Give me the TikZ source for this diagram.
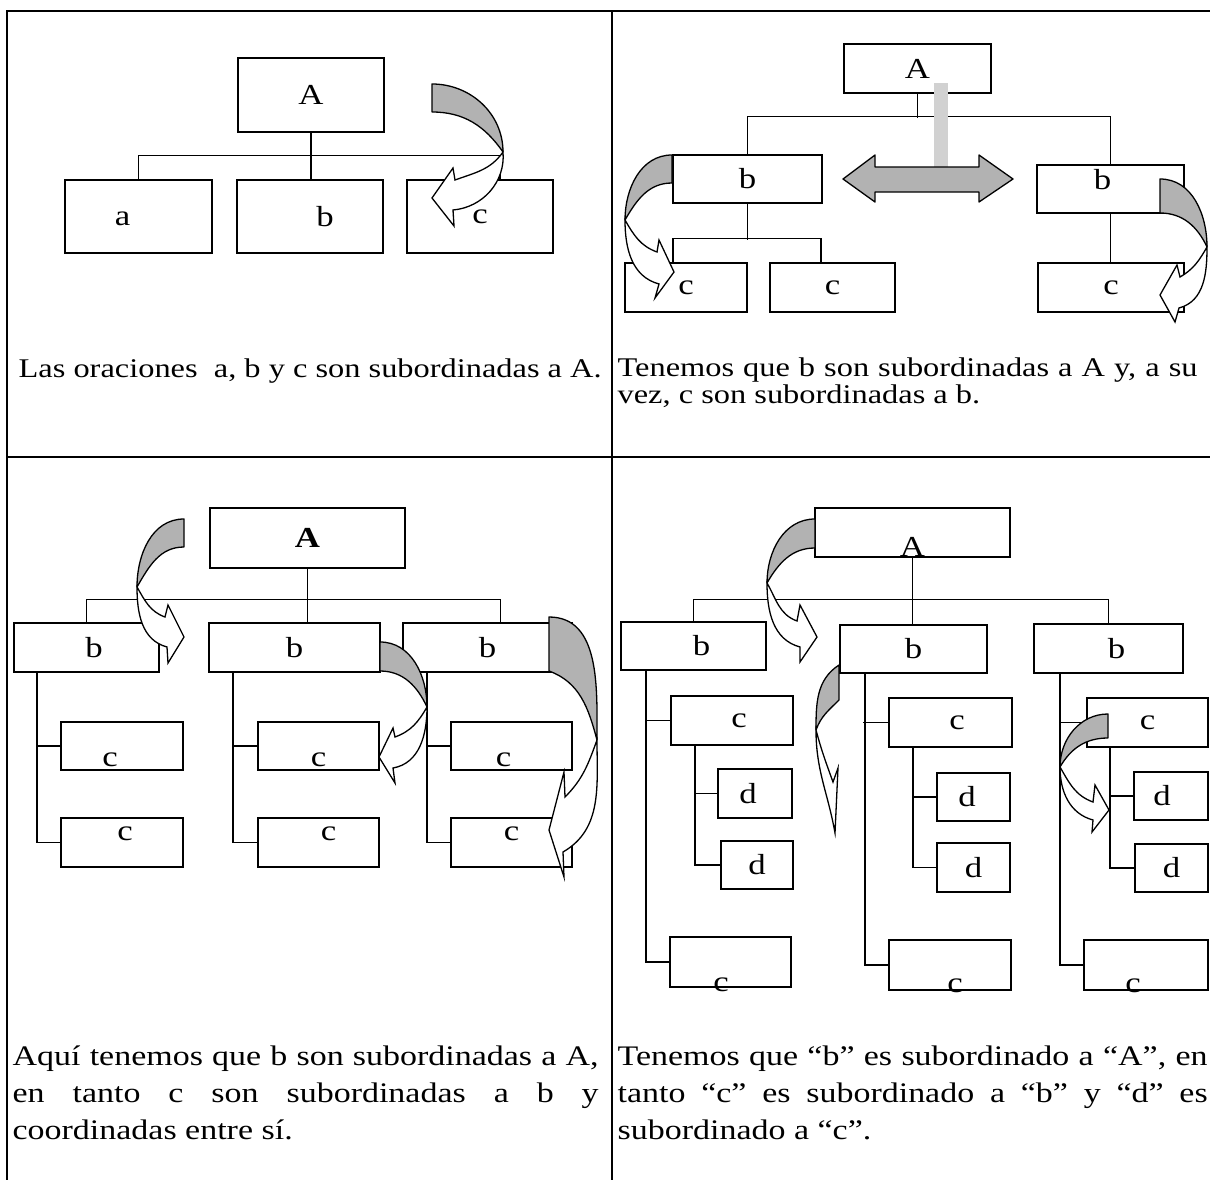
\documentclass[tikz,border=0pt]{standalone}
\usepackage{fontspec}
\setmainfont{Liberation Serif}[FakeStretch=1.2]
\begin{document}
\begin{tikzpicture}[x=1pt, y=1pt, line width=1.3pt, font=\fontsize{27}{27}\selectfont,
  bx/.style={draw, inner sep=0pt, font=\fontsize{29}{29}\selectfont},
  every label/.style={font=\fontsize{29}{29}\selectfont},
  back/.style={draw, fill=black!30, line join=round},
  front/.style={draw, fill=white, line join=miter},
  bar/.style={fill=black!18},
  txt/.style={anchor=base west, inner sep=0pt, align=justify},
  low/.style={font=\fontsize{28.3}{37}\selectfont}]
\useasboundingbox (0,0) rectangle (1210,-1180);
\draw (7,-1180) |- (1210,-11);
\draw (612,-11) -- (612,-1180);
\draw (7,-457) -- (1210,-457);

\node[bx, minimum width=146, minimum height=74] (A1) at (311,-95) {A};
\node[bx, minimum width=147, minimum height=73, label={[xshift=-16,yshift=-2]center:a}] (a1) at (138.5,-216.5) {};
\node[bx, minimum width=146, minimum height=73, label={[xshift=15]center:b}] (b1) at (310,-216.5) {};
\node[bx, minimum width=146, minimum height=73] (c1) at (480,-216.5) {c};
\draw (A1.south) -- (A1.south |- b1.north);
\draw (a1.north) -- ++(0,24) -| ([xshift=20]c1.north);
\node[anchor=base west, inner sep=0pt] (t1) at (18,-377) {Las oraciones\ \ a, b y c son subordinadas a A.};

\node[bx, minimum width=147, minimum height=49] (A2) at (917.5,-68.5) {A};
\node[bx, minimum width=149, minimum height=48] (b2L) at (747.5,-179) {b};
\node[bx, minimum width=147, minimum height=48, label={[xshift=-8,yshift=9]center:b}] (b2R) at (1110.5,-189) {};
\node[bx, minimum width=122, minimum height=49] (c2a) at (686,-287.5) {c};
\node[bx, minimum width=125, minimum height=49] (c2b) at (832.5,-287.5) {c};
\node[bx, minimum width=146, minimum height=49] (c2R) at (1111,-287.5) {c};
\draw (A2.south) -- ++(0,-24);
\draw (b2L.north) -- ++(0,38) -| (b2R.north);
\draw (b2L.south) -- ++(0,-36);
\draw ([xshift=-13]c2a.north) -- ++(0,24) -| ([xshift=-11.5]c2b.north);
\draw (b2R.south) -- (b2R.south |- c2R.north);
\node[txt, text width=580] (t2) at (617,-376) {\noindent Tenemos que b son subordinadas a A y, a su\linebreak vez, c son subordinadas a b.};

\node[bx, minimum width=195, minimum height=60] (A3) at (307.5,-538) {\bfseries A};
\node[bx, minimum width=145, minimum height=49, label={[xshift=7.5]center:b}] (b3a) at (86.5,-647.5) {};
\node[bx, minimum width=171, minimum height=49] (b3b) at (294.5,-647.5) {b};
\node[bx, minimum width=169, minimum height=49] (b3c) at (487.5,-647.5) {b};
\draw (b3a.north) -- ++(0,23) -| ([xshift=13]b3c.north);
\draw (A3.south) -- (A3.south |- b3b.north);
\node[bx, minimum width=122, minimum height=48, label={[xshift=-12,yshift=-14]center:c}] (c3a1) at (122,-746) {};
\node[bx, minimum width=122, minimum height=49, label={[xshift=3,yshift=9]center:c}] (c3a2) at (122,-842.5) {};
\node[bx, minimum width=121, minimum height=48, label={[yshift=-14]center:c}] (c3b1) at (318.5,-746) {};
\node[bx, minimum width=121, minimum height=49, label={[xshift=10,yshift=9]center:c}] (c3b2) at (318.5,-842.5) {};
\node[bx, minimum width=121, minimum height=48, label={[xshift=-8,yshift=-14]center:c}] (c3c1) at (511.5,-746) {};
\node[bx, minimum width=121, minimum height=49, label={[yshift=9]center:c}] (c3c2) at (511.5,-842.5) {};
\draw ([xshift=-49.5]b3a.south) |- (c3a2.west);
\draw (c3a1.west) -- ++(-24,0);
\draw ([xshift=-61.5]b3b.south) |- (c3b2.west);
\draw (c3b1.west) -- ++(-25,0);
\draw ([xshift=-60.5]b3c.south) |- (c3c2.west);
\draw (c3c1.west) -- ++(-24,0);
\node[txt, low, text width=586] (t3) at (12,-1065) {\noindent Aquí tenemos que b son subordinadas a A,\linebreak en tanto c son subordinadas a b y\linebreak coordinadas entre sí.};

\node[bx, minimum width=195, minimum height=49, label={[yshift=-14]center:A}] (A4) at (912.5,-532.5) {};
\node[bx, minimum width=145, minimum height=48, label={[xshift=8]center:b}] (b4a) at (693.5,-646) {};
\node[bx, minimum width=147, minimum height=48] (b4b) at (913.5,-649) {b};
\node[bx, minimum width=149, minimum height=49, label={[xshift=8]center:b}] (b4c) at (1108.5,-648.5) {};
\draw (b4a.north) -- ++(0,22) -| (b4c.north);
\draw (A4.south) -- (A4.south |- b4b.north);
\node[bx, minimum width=122, minimum height=49, label={[xshift=7]center:c}] (c4a) at (732,-720.5) {};
\node[bx, minimum width=74, minimum height=49, label={[xshift=-7]center:d}] (d4a1) at (755,-793.5) {};
\node[bx, minimum width=72, minimum height=48] (d4a2) at (757,-865) {d};
\node[bx, minimum width=121, minimum height=50, label={[xshift=-9.5,yshift=-23]center:c}] (c4a3) at (730.5,-962) {};
\draw ([xshift=-47.5]b4a.south) |- (c4a3.west);
\draw (c4a.west) -- ++(-25,0);
\draw ([xshift=-37]c4a.south) |- (d4a2.west);
\draw (d4a1.west) -- ++(-23,0);
\node[bx, minimum width=123, minimum height=49, label={[xshift=6.5]center:c}] (c4b) at (950.5,-722.5) {};
\node[bx, minimum width=73, minimum height=48, label={[xshift=-6.5]center:d}] (d4b1) at (973.5,-797) {};
\node[bx, minimum width=73, minimum height=49] (d4b2) at (973.5,-867.5) {d};
\node[bx, minimum width=122, minimum height=50, label={[xshift=5,yshift=-21]center:c}] (c4b3) at (950,-965) {};
\draw ([xshift=-48.5]b4b.south) |- (c4b3.west);
\draw (c4b.west) -- ++(-25,0);
\draw ([xshift=-37.5]c4b.south) |- (d4b2.west);
\draw (d4b1.west) -- ++(-24,0);
\node[bx, minimum width=121, minimum height=49] (c4c) at (1147.5,-722.5) {c};
\node[bx, minimum width=74, minimum height=48, label={[xshift=-9]center:d}] (d4c1) at (1171,-796) {};
\node[bx, minimum width=73, minimum height=48] (d4c2) at (1171.5,-868) {d};
\node[bx, minimum width=124, minimum height=50, label={[xshift=-13,yshift=-21]center:c}] (c4c3) at (1146,-965) {};
\draw ([xshift=-48.5]b4c.south) |- (c4c3.west);
\draw (c4c.west) -- ++(-27,0);
\draw ([xshift=-37.5]c4c.south) |- (d4c2.west);
\draw (d4c1.west) -- ++(-24,0);
\node[txt, low, text width=590] (t4) at (617,-1065) {\noindent Tenemos que “b” es subordinado a “A”, en\linebreak tanto “c” es subordinado a “b” y “d” es\linebreak subordinado a “c”.};

\fill[bar] (934,-83) rectangle (948,-167);
\draw[back] (843,-179) -- (875,-155) -- (875,-167) -- (979,-167) -- (979,-155) -- (1013,-179) -- (979,-202) -- (979,-192) -- (875,-192) -- (875,-202) -- cycle;

\draw[back] (432,-84) to[out=0,in=90] (503,-152) to[out=125,in=0] (432,-112) -- cycle;
\draw[front] (453,-210) to[out=5,in=275] (503,-152) to[out=235,in=20] (455,-180) -- (453,-168) -- (432,-198) -- (454,-226) -- cycle;

\draw[back] (672,-155) to[out=180,in=90] (625,-220) to[out=60,in=180] (672,-183) -- cycle;
\draw[front] (659,-284) to[out=165,in=270] (625,-220) to[out=300,in=160] (657,-252) -- (659,-240) -- (674,-272) -- (655,-298) -- cycle;

\draw[back] (1160,-179) to[out=0,in=90] (1207,-247) to[out=115,in=0] (1160,-213) -- cycle;
\draw[front] (1179,-308) to[out=15,in=270] (1207,-247) to[out=240,in=30] (1180,-277) -- (1177,-265) -- (1160,-295) -- (1175,-322) -- cycle;

\draw[back] (184,-519) to[out=180,in=90] (137,-587) to[out=60,in=180] (184,-547) -- cycle;
\draw[front] (167,-647) to[out=165,in=270] (137,-587) to[out=300,in=160] (165,-617) -- (168,-605) -- (184,-637) -- (168,-663) -- cycle;

\draw[back] (380,-642) to[out=0,in=90] (427,-707) to[out=115,in=0] (380,-671) -- cycle;
\draw[front] (393,-768) to[out=10,in=270] (427,-707) to[out=240,in=20] (395,-737) -- (393,-728) -- (379,-757) -- (395,-783) -- cycle;

\draw[back] (549,-617) to[out=0,in=90] (597,-740) to[out=105,in=-20] (549,-671) -- cycle;
\draw[front] (563,-852) to[out=30,in=270] (597,-740) to[out=250,in=45] (565,-797) -- (564,-772) -- (549,-830) -- (564,-877) -- cycle;

\draw[back] (815,-519) to[out=180,in=90] (767,-583) to[out=60,in=180] (815,-548) -- cycle;
\draw[front] (800,-647) to[out=165,in=270] (767,-583) to[out=300,in=160] (797,-621) -- (800,-605) -- (817,-637) -- (800,-662) -- cycle;

\draw[back] (839,-665) to[out=213,in=90] (816,-730) to[out=70,in=225] (839,-700) -- cycle;
\draw[front] (835,-833) to[out=100,in=270] (816,-730) to[out=285,in=110] (833,-782) -- (838,-768) -- cycle;

\draw[back] (1108,-714) to[out=180,in=90] (1060,-767) to[out=60,in=180] (1108,-738) -- cycle;
\draw[front] (1093,-820) to[out=165,in=270] (1060,-767) to[out=300,in=160] (1093,-802) -- (1095,-785) -- (1109,-810) -- (1092,-832) -- cycle;
\end{tikzpicture}
\end{document}
